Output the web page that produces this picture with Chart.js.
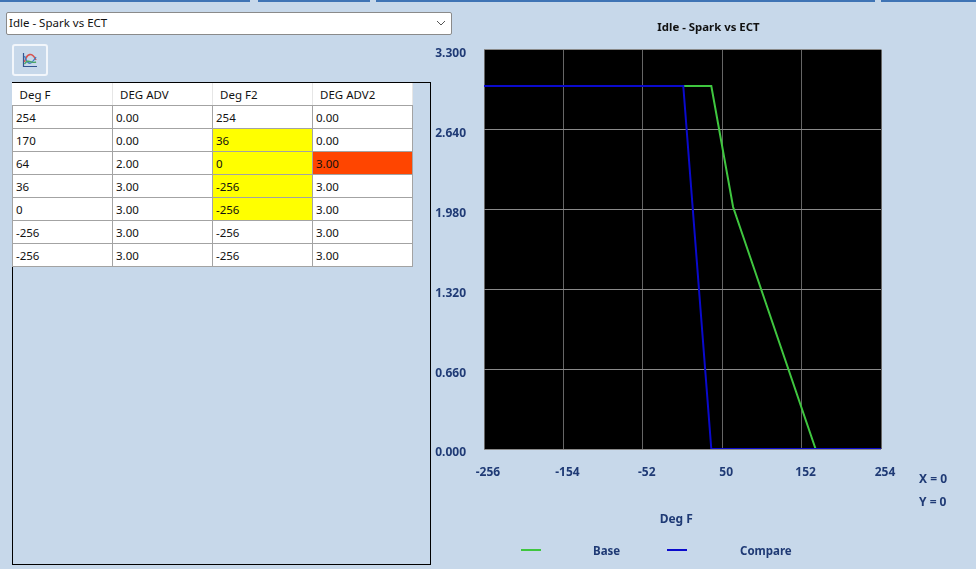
<!DOCTYPE html>
<html>
<head>
<meta charset="utf-8">
<title>Idle - Spark vs ECT</title>
<script src="https://cdn.jsdelivr.net/npm/chart.js@4"></script>
<style>
  html, body { margin: 0; padding: 0; width: 976px; height: 569px; overflow: hidden; background: #c7d8ea; font-family: "Noto Sans", sans-serif; font-size: 11.5px; color: #111; }
  .tab { position: absolute; top: 0; height: 2px; background: #3f74b5; }
  #dropdown { position: absolute; left: 6px; top: 12px; height: 21px; background: #fff; border: 1px solid #8a8a8a; border-radius: 2px; line-height: 20px; padding-left: 2px; width: 442px; font-size: 11.5px; }
  #dropdown svg { position: absolute; right: 5px; top: 7px; }
  #iconBtn { position: absolute; left: 12px; top: 44px; width: 32px; height: 28px; border: 2px solid #f2f6fb; border-radius: 3px; }
  #iconBtn svg { position: absolute; left: 8px; top: 6px; }
  #tableBox { position: absolute; left: 12px; top: 82px; width: 417px; height: 481px; border: 1px solid #000; }
  #grid { border-collapse: collapse; table-layout: fixed; width: 400px; position: absolute; left: -1px; top: 0; background: #fff; }
  #grid th, #grid td { width: 100px; height: 22px; padding: 1px 0 0 3px; box-sizing: border-box; text-align: left; font-weight: normal; white-space: nowrap; overflow: hidden; }
  #grid td { border: 1px solid #a3a3a3; height: 23px; }
  #grid th { padding-left: 7px; border-right: 1px solid #e6e6e6; border-bottom: 1px solid #a3a3a3; }
  #chartBox { position: absolute; left: 430px; top: 0; }
  .side { position: absolute; color: #1f3a75; font-weight: bold; font-size: 12px; white-space: nowrap; }
  .swatch { position: absolute; height: 2px; width: 20px; }
</style>
</head>
<body>
<div class="tab" style="left:0;width:250px"></div>
<div class="tab" style="left:258px;width:112px"></div>
<div class="tab" style="left:376px;width:499px"></div>
<div class="tab" style="left:881px;width:95px"></div>

<div id="dropdown">Idle - Spark vs ECT
  <svg width="10" height="7" viewBox="0 0 10 7"><path d="M1 1 L5 5 L9 1" fill="none" stroke="#555" stroke-width="1"/></svg>
</div>
<div id="iconBtn">
  <svg width="16" height="16" viewBox="0 0 16 16">
    <path d="M1.5 1 V14.5 H15" fill="none" stroke="#35558f" stroke-width="1.2"/>
    <path d="M2.5 10 C5 1, 10 0, 14 8" fill="none" stroke="#d9534f" stroke-width="1.6"/>
    <path d="M2.5 4 C6 14, 9 13, 14 5" fill="none" stroke="#3f7fc4" stroke-width="1.4"/>
    <path d="M2.5 12 C6 6, 10 12, 14 10" fill="none" stroke="#4aa564" stroke-width="1.4"/>
  </svg>
</div>
<div id="tableBox"><table id="grid"><thead><tr id="gridHead"></tr></thead><tbody id="gridBody"></tbody></table></div>

<div id="chartBox"><canvas id="grafico" width="556" height="569"></canvas></div>

<div class="side" style="left:919px;top:470px">X = 0</div>
<div class="side" style="left:919px;top:493px">Y = 0</div>
<div id="legenda"></div>

<script>
// ======= Data =======
const colunas = ["Deg F", "DEG ADV", "Deg F2", "DEG ADV2"];
const degF = [254, 170, 64, 36, 0, -256, -256];
const degAdv = [0, 0, 2, 3, 3, 3, 3];
const degF2 = [254, 36, 0, -256, -256, -256, -256];
const degAdv2 = [0, 0, 3, 3, 3, 3, 3];
const celulasAmarelas = ["1,2", "2,2", "3,2", "4,2"];
const celulasLaranja = ["2,3"];

const xMin = -256, xMax = 254, xStep = 102;
const yMin = 0, yMax = 3.3, yStep = 0.66;

const corBase = "#3fc63f";
const corCompare = "#0a0acc";
const corTexto = "#1f3a75";
const fonte = "'Noto Sans', sans-serif";

// ======= Table =======
document.getElementById("gridHead").innerHTML = colunas.map(c => `<th>${c}</th>`).join("");
document.getElementById("gridBody").innerHTML = degF.map((_, i) => {
  const linha = [degF[i], degAdv[i].toFixed(2), degF2[i], degAdv2[i].toFixed(2)];
  return "<tr>" + linha.map((v, j) => {
    let bg = "";
    if (celulasAmarelas.includes(`${i},${j}`)) bg = "background:#ffff00";
    if (celulasLaranja.includes(`${i},${j}`)) bg = "background:#ff4500";
    return `<td style="${bg}">${v}</td>`;
  }).join("") + "</tr>";
}).join("");

// ======= Chart =======
const pontos = (xs, ys) => xs.map((x, i) => ({ x, y: ys[i] }));

const fundoPreto = {
  id: "fundoPreto",
  beforeDraw(chart) {
    const { ctx, chartArea: a } = chart;
    ctx.save();
    ctx.fillStyle = "#000";
    ctx.fillRect(a.left, a.top, a.width, a.height);
    ctx.restore();
  }
};

// title sits centred on the whole panel, not on the plot
const tituloCentrado = {
  id: "tituloCentrado",
  afterLayout(chart) {
    chart.titleBlock.left += 53;
    chart.titleBlock.right += 53;
  }
};

const grafico = new Chart(document.getElementById("grafico"), {
  type: "scatter",
  data: {
    datasets: [
      { label: "Base", data: pontos(degF, degAdv), showLine: true, borderColor: corBase, borderWidth: 2, pointRadius: 0, tension: 0, order: 1 },
      { label: "Compare", data: pontos(degF2, degAdv2), showLine: true, borderColor: corCompare, borderWidth: 2, pointRadius: 0, tension: 0, order: 0 }
    ]
  },
  options: {
    responsive: false,
    animation: false,
    layout: { autoPadding: false, padding: { left: 0, right: 105, top: 0, bottom: 0 } },
    plugins: {
      legend: { display: false },
      tooltip: { enabled: false },
      title: {
        display: true,
        text: "Idle - Spark vs ECT",
        color: "#111",
        font: { family: fonte, size: 11.4, weight: "bold" },
        padding: { top: 21, bottom: 15 }
      }
    },
    scales: {
      x: {
        type: "linear",
        min: xMin,
        max: xMax,
        afterBuildTicks(s) { s.ticks = degTicks(xMin, xMax, xStep); },
        afterFit(s) { s.height = 120; },
        grid: { color: "#666", lineWidth: 1, drawTicks: false },
        border: { display: false },
        ticks: {
          autoSkip: false, maxRotation: 0, padding: 16, labelOffset: 4,
          color: corTexto, font: { family: fonte, size: 12, weight: "bold" },
          callback: v => String(v)
        },
        title: {
          display: true,
          text: "Deg F    ",
          color: corTexto,
          font: { family: fonte, size: 12, weight: "bold" },
          padding: { top: 0, bottom: 42 }
        }
      },
      y: {
        type: "linear",
        min: yMin,
        max: yMax,
        afterBuildTicks(s) { s.ticks = degTicks(yMin, yMax, yStep); },
        afterFit(s) { s.width = 54; },
        grid: { color: "#8a8a8a", lineWidth: 1, drawTicks: false },
        border: { display: false },
        ticks: {
          padding: 18, labelOffset: 4,
          color: corTexto, font: { family: fonte, size: 12, weight: "bold" },
          callback: v => v.toFixed(3)
        }
      }
    }
  },
  plugins: [fundoPreto, tituloCentrado]
});

function degTicks(min, max, step) {
  const n = Math.round((max - min) / step);
  const out = [];
  for (let i = 0; i <= n; i++) out.push({ value: +(min + i * step).toFixed(3) });
  return out;
}

// ======= Legend =======
const legendaPos = [{ linha: 521, texto: 593 }, { linha: 667, texto: 740 }];
document.getElementById("legenda").innerHTML = grafico.data.datasets.map((d, i) =>
  `<div class="swatch" style="left:${legendaPos[i].linha}px;top:549px;background:${d.borderColor}"></div>` +
  `<div class="side" style="left:${legendaPos[i].texto}px;top:543px;font-size:11.5px">${d.label}</div>`
).join("");
</script>
</body>
</html>
